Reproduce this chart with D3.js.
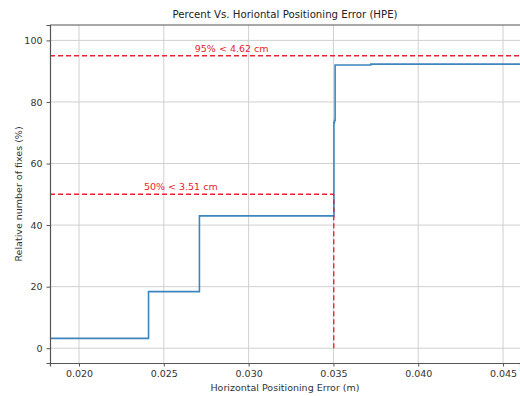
<!DOCTYPE html>
<html>
<head>
<meta charset="utf-8">
<script src="https://cdn.jsdelivr.net/npm/d3@7"></script>
<style>
  body { margin: 0; background: #fff; }
  svg { display: block; font-family: "DejaVu Sans", sans-serif; }
</style>
</head>
<body>
<svg id="chart" width="520" height="396"></svg>
<script>
// CDF of horizontal error (step curve)
const hpe = [0.0183, 0.0241, 0.0271, 0.03503, 0.03506, 0.0351, 0.0372, 0.0475]
const pct = [3.2, 18.4, 43.0, 73.3, 74.0, 92.0, 92.3, 92.3]

// percentile markers
const markPct = [50, 95]
const markHpe = [0.03502, 0.0462]
const markText = ["50% < 3.51 cm", "95% < 4.62 cm"]
const markTextX = [0.0260, 0.0290]

const xTicks = [0.020, 0.025, 0.030, 0.035, 0.040, 0.045]
const yTicks = [0, 20, 40, 60, 80, 100]

const margin = { left: 50, top: 25, right: 0, bottom: 33 }
const W = 520, H = 396
const width = W - margin.left - margin.right
const height = H - margin.top - margin.bottom

const svg = d3.select("#chart")
const x = d3.scaleLinear().domain([0.01829, 0.04600]).range([0, width])
const y = d3.scaleLinear().domain([-4.8, 105]).range([height, 0])

svg.append("defs").append("clipPath").attr("id", "clip")
    .append("rect").attr("width", width + 2).attr("height", height)

const g = svg.append("g").attr("transform", `translate(${margin.left},${margin.top})`)

// grid
g.append("g").selectAll("line").data(xTicks).join("line")
    .attr("x1", d => x(d)).attr("x2", d => x(d))
    .attr("y1", 0).attr("y2", height)
    .attr("stroke", "#d0d0d0").attr("stroke-width", 1)
g.append("g").selectAll("line").data(yTicks).join("line")
    .attr("x1", 0).attr("x2", width + 2)
    .attr("y1", d => y(d)).attr("y2", d => y(d))
    .attr("stroke", "#d0d0d0").attr("stroke-width", 1)

const plot = g.append("g").attr("clip-path", "url(#clip)")

// step curve
plot.append("path")
    .datum(hpe.map((d, i) => [d, pct[i]]))
    .attr("fill", "none")
    .attr("stroke", "#3d85bd")
    .attr("stroke-width", 1.6)
    .attr("d", d3.line().curve(d3.curveStepAfter).x(d => x(d[0])).y(d => y(d[1])))

// percentile dashed lines
markPct.forEach((p, i) => {
    plot.append("line")
        .attr("x1", 0).attr("x2", x(markHpe[i]))
        .attr("y1", y(p)).attr("y2", y(p))
        .attr("stroke", "#e8242c").attr("stroke-width", 1.4)
        .attr("stroke-dasharray", "5,3")
    plot.append("line")
        .attr("x1", x(markHpe[i])).attr("x2", x(markHpe[i]))
        .attr("y1", y(0)).attr("y2", y(p))
        .attr("stroke", "#e8242c").attr("stroke-width", 1.4)
        .attr("stroke-dasharray", "5,3")
    g.append("text")
        .attr("x", x(markTextX[i])).attr("y", y(p) - 4)
        .attr("text-anchor", "middle")
        .attr("font-size", 9.5)
        .attr("fill", "#e8242c")
        .text(markText[i])
})

// axes
const xAxis = g.append("g")
    .attr("transform", `translate(0,${height})`)
    .call(d3.axisBottom(x).tickValues(xTicks).tickFormat(d3.format(".3f")).tickSizeOuter(0).tickSize(3.5).tickPadding(4))
const yAxis = g.append("g")
    .call(d3.axisLeft(y).tickValues(yTicks).tickSizeOuter(0).tickSize(3.5).tickPadding(4))
for (const a of [xAxis, yAxis]) {
    a.select(".domain").attr("stroke", "#555").attr("stroke-width", 1.2)
    a.selectAll(".tick line").attr("stroke", "#555")
    a.selectAll(".tick text").attr("font-size", 9.5).attr("fill", "#333").attr("font-family", "DejaVu Sans")
}
// top spine
g.append("line").attr("x1", 0).attr("x2", width + 2).attr("y1", 0).attr("y2", 0)
    .attr("stroke", "#555").attr("stroke-width", 1.2)

// titles
svg.append("text")
    .attr("x", 285).attr("y", 18)
    .attr("text-anchor", "middle").attr("font-size", 10.2).attr("fill", "#222")
    .text("Percent Vs. Horiontal Positioning Error (HPE)")
svg.append("text")
    .attr("x", 285).attr("y", 391)
    .attr("text-anchor", "middle").attr("font-size", 9.5).attr("fill", "#333")
    .text("Horizontal Positioning Error (m)")
svg.append("text")
    .attr("transform", `translate(22,${margin.top + height / 2}) rotate(-90)`)
    .attr("text-anchor", "middle").attr("font-size", 9.5).attr("fill", "#333")
    .text("Relative number of fixes (%)")
</script>
</body>
</html>
